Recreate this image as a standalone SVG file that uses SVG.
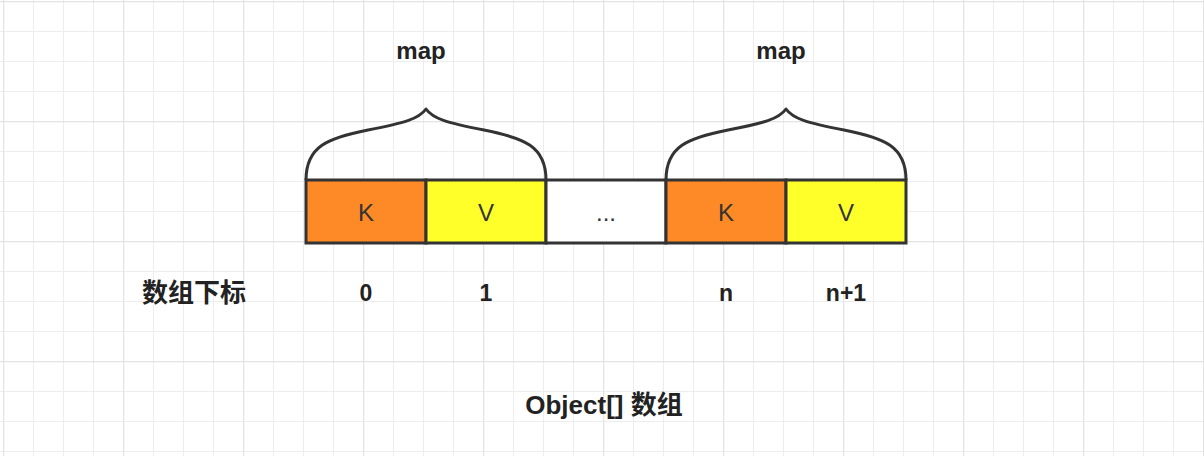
<svg xmlns="http://www.w3.org/2000/svg" width="1204" height="456" viewBox="0 0 1204 456">
  <defs>
    <pattern id="grid" patternUnits="userSpaceOnUse" x="3" y="1" width="120" height="120">
      <path d="M30.5,0V120M60.5,0V120M90.5,0V120M0,30.5H120M0,60.5H120M0,90.5H120" stroke="#ededed" stroke-width="1" fill="none"/>
      <path d="M0.5,0V120M0,0.5H120" stroke="#e3e3e3" stroke-width="1.5" fill="none"/>
    </pattern>
    <style>
      .cell { stroke: #333333; stroke-width: 3; }
      .k { fill: #FD8A26; }
      .v { fill: #FFFF2A; }
      .e { fill: #FFFFFF; }
      .brace { fill: none; stroke: #333333; stroke-width: 3; stroke-linejoin: round; }
      .lbl { font-family: "Liberation Sans", "Noto Sans CJK SC", sans-serif; font-size: 23px; fill: #222222; font-weight: bold; text-anchor: middle; }
      .map { font-size: 24px; }
      .big { font-size: 26px; }
      .in { font-family: "Liberation Sans", "Noto Sans CJK SC", sans-serif; font-size: 24px; fill: #333333; text-anchor: middle; }
    </style>
  </defs>
  <rect width="1204" height="456" fill="#ffffff"/>
  <rect width="1204" height="456" fill="url(#grid)"/>

  <g id="connectors">
    <path id="brace1" class="brace" d="M306,180 C306,146 328,138 368,130 C404,123 419,119 426,109 C433,119 448,123 484,130 C524,138 546,146 546,180"/>
    <path id="brace2" class="brace" d="M666,180 C666,146 688,138 728,130 C764,123 779,119 786,109 C793,119 808,123 844,130 C884,138 906,146 906,180"/>
  </g>

  <g id="cell-k0"><rect class="cell k" x="306" y="180" width="120" height="63"/><text class="in" x="366" y="221">K</text></g>
  <g id="cell-v1"><rect class="cell v" x="426" y="180" width="120" height="63"/><text class="in" x="486" y="221">V</text></g>
  <g id="cell-dots"><rect class="cell e" x="546" y="180" width="120" height="63"/><text class="in" x="606" y="221">...</text></g>
  <g id="cell-kn"><rect class="cell k" x="666" y="180" width="120" height="63"/><text class="in" x="726" y="221">K</text></g>
  <g id="cell-vn1"><rect class="cell v" x="786" y="180" width="120" height="63"/><text class="in" x="846" y="221">V</text></g>

  <g id="map1"><text class="lbl map" x="421" y="59">map</text></g>
  <g id="map2"><text class="lbl map" x="781" y="59">map</text></g>

  <g id="index-label"><text class="lbl big" x="194" y="302">数组下标</text></g>
  <g id="idx0"><text class="lbl" x="366" y="301">0</text></g>
  <g id="idx1"><text class="lbl" x="486" y="301">1</text></g>
  <g id="idxn"><text class="lbl" x="726" y="301">n</text></g>
  <g id="idxn1"><text class="lbl" x="846" y="301">n+1</text></g>

  <g id="title"><text class="lbl big" x="604" y="414">Object[] 数组</text></g>
</svg>
